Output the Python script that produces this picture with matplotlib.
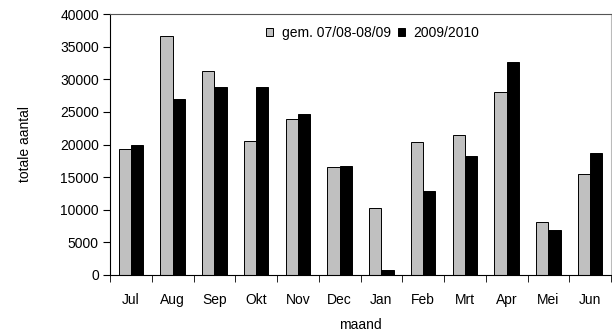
import numpy as np
import matplotlib
matplotlib.use('Agg')
import matplotlib.pyplot as plt

plt.rcParams['font.family'] = ['Liberation Sans', 'DejaVu Sans']
plt.rcParams['font.size'] = 10

# data
months = ['Jul', 'Aug', 'Sep', 'Okt', 'Nov', 'Dec', 'Jan', 'Feb', 'Mrt', 'Apr', 'Mei', 'Jun']
gem = [19250, 36700, 31200, 20600, 23950, 16500, 10200, 20450, 21400, 28100, 8100, 15550]
y2010 = [19850, 26900, 28850, 28850, 24750, 16750, 800, 12950, 18300, 32650, 6900, 18700]

fig = plt.figure(figsize=(6.12, 3.32), dpi=100)
ax = fig.add_axes([110 / 612, 1 - 275 / 332, 501 / 612, 261 / 332])

x = np.arange(len(months))
w = 0.295
ax.bar(x - w / 2, gem, w, color='#c0c0c0', edgecolor='black', linewidth=0.7,
       label='gem. 07/08-08/09')
ax.bar(x + w / 2, y2010, w, color='black', edgecolor='black', linewidth=0.7,
       label='2009/2010')

ax.set_xlim(-0.5, len(months) - 0.5)
ax.set_ylim(0, 40000)
ax.set_yticks(range(0, 40001, 5000))
ax.set_xticks(x)
ax.set_xticklabels(months)
ax.tick_params(axis='x', length=0, pad=13)
ax.set_xticks(np.arange(-0.5, len(months), 1), minor=True)
ax.tick_params(axis='x', which='minor', length=5, direction='out')
ax.tick_params(axis='y', length=5, direction='out', pad=3)

ax.spines['top'].set_color('#555555')
ax.spines['right'].set_color('#bbbbbb')

ax.set_xlabel('maand', labelpad=8)
ax.set_ylabel('totale aantal', labelpad=20)

ax.legend(loc='center', bbox_to_anchor=(0.524, 0.927), ncol=2, frameon=False,
          handlelength=0.5, handleheight=0.5, handletextpad=0.6, columnspacing=0.5,
          borderpad=0)

fig.savefig('out.png', dpi=100)
